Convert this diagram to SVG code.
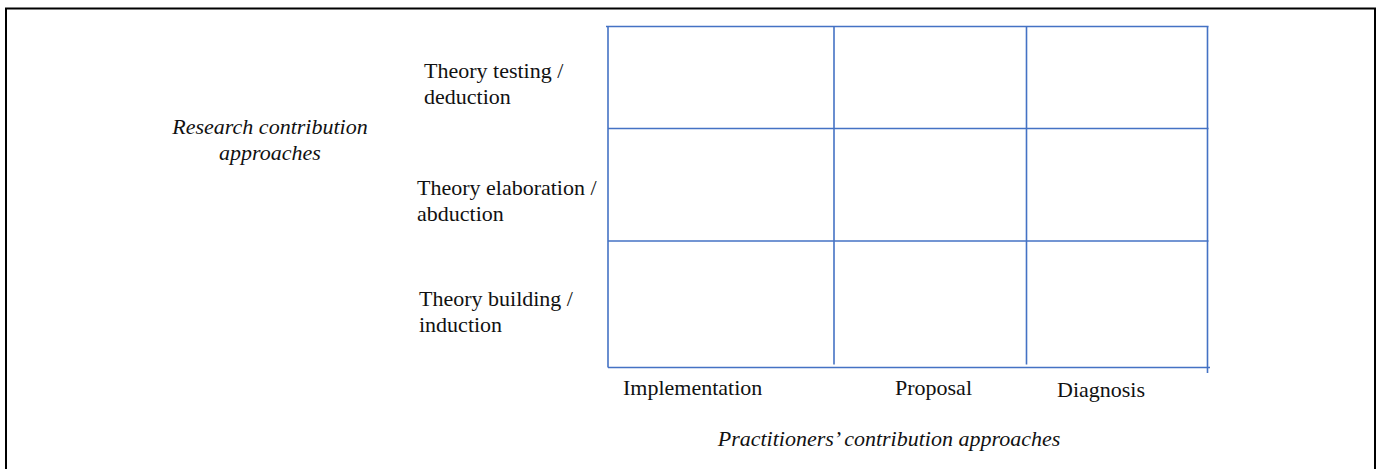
<svg xmlns="http://www.w3.org/2000/svg" width="1377" height="469" viewBox="0 0 1377 469">
<style>
.g{stroke:#4472C4;stroke-width:1.6;fill:none}
.t{font-family:"Liberation Serif",serif;font-size:22px;fill:#111}
.i{font-style:italic}
</style>
<rect width="1377" height="469" fill="#fff"/>
<path d="M6,469 V8.5 H1375 V469" fill="none" stroke="#000" stroke-width="2"/>
<g id="grid">
<path class="g" d="M606,26.5 H1208.5"/>
<path class="g" d="M608,26.5 V367.5"/>
<path class="g" d="M834,26.5 V364.5"/>
<path class="g" d="M1026.5,26.5 V364.5"/>
<path class="g" d="M1207.5,26.5 V373"/>
<path class="g" d="M608,128.5 H1208.5"/>
<path class="g" d="M608,241 H1208.5"/>
<path class="g" d="M608,367.5 H1210"/>
</g>
<g id="row-labels">
<text class="t" x="424" y="78">Theory testing /</text>
<text class="t" x="424" y="104">deduction</text>
<text class="t" x="417" y="195">Theory elaboration /</text>
<text class="t" x="417" y="221">abduction</text>
<text class="t" x="419" y="306">Theory building /</text>
<text class="t" x="419" y="332">induction</text>
</g>
<g id="y-axis-title">
<text class="t i" x="270" y="134" text-anchor="middle">Research contribution</text>
<text class="t i" x="270" y="160" text-anchor="middle">approaches</text>
</g>
<g id="col-labels">
<text class="t" x="623" y="395">Implementation</text>
<text class="t" x="895" y="395">Proposal</text>
<text class="t" x="1057" y="397">Diagnosis</text>
</g>
<g id="x-axis-title">
<text class="t i" x="889" y="446" text-anchor="middle">Practitioners’ contribution approaches</text>
</g>
</svg>
